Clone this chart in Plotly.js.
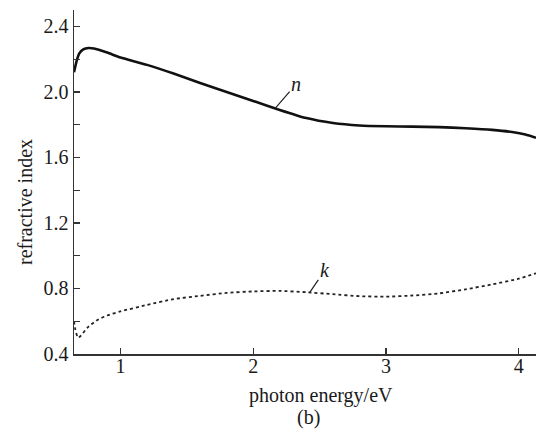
<!DOCTYPE html>
<html>
<head>
<meta charset="utf-8">
<script src="https://cdn.plot.ly/plotly-3.0.1.min.js"></script>
<style>html,body{margin:0;padding:0;background:#fff;}#chart{width:537px;height:438px;}</style>
</head>
<body>
<div id="chart"></div>
<script>
// photon energy (eV) and refractive index n
const energyN = [0.65, 0.67, 0.69, 0.72, 0.76, 0.80, 0.90, 1.00, 1.20, 1.40, 1.60, 1.80, 2.00, 2.20, 2.40, 2.60, 2.80, 3.00, 3.20, 3.40, 3.60, 3.80, 3.95, 4.05, 4.13];
const nValues = [2.12, 2.19, 2.235, 2.26, 2.268, 2.265, 2.24, 2.21, 2.165, 2.112, 2.055, 2.00, 1.945, 1.89, 1.84, 1.81, 1.795, 1.79, 1.788, 1.785, 1.778, 1.768, 1.755, 1.74, 1.72];
// extinction coefficient k
const energyK = [0.65, 0.66, 0.68, 0.70, 0.75, 0.82, 0.90, 1.00, 1.20, 1.40, 1.60, 1.80, 2.00, 2.20, 2.40, 2.60, 2.80, 3.00, 3.20, 3.40, 3.60, 3.80, 4.00, 4.13];
const kValues = [0.60, 0.55, 0.50, 0.51, 0.56, 0.605, 0.635, 0.66, 0.70, 0.735, 0.755, 0.773, 0.782, 0.785, 0.777, 0.765, 0.753, 0.75, 0.757, 0.77, 0.795, 0.825, 0.86, 0.893];
const xTicks = [1, 2, 3, 4, 4.13];
const xTickText = ["1", "2", "3", "4", ""];
const yTicks = [0.4, 0.6, 0.8, 1.0, 1.2, 1.4, 1.6, 1.8, 2.0, 2.2, 2.4, 2.5];
const yTickText = ["0.4", "", "0.8", "", "1.2", "", "1.6", "", "2.0", "", "2.4", ""];
const labelN = {text: "n", x: 2.165, y: 1.90};
const labelK = {text: "k", x: 2.426, y: 0.776};

const font = "'Liberation Serif', 'Times New Roman', serif";
const axisColor = "#333";
const txt = "#1a1a1a";

const traces = [
  {x: energyN, y: nValues, mode: "lines", line: {color: "#111", width: 2.6, shape: "spline", smoothing: 0.6}, hoverinfo: "skip"},
  {x: energyK, y: kValues, mode: "lines", line: {color: "#222", width: 1.8, dash: "dot", shape: "spline", smoothing: 0.6}, hoverinfo: "skip"}
];

const layout = {
  width: 537, height: 438,
  margin: {l: 74, r: 1, t: 10, b: 84},
  paper_bgcolor: "#fff", plot_bgcolor: "#fff",
  showlegend: false,
  font: {family: font, size: 20, color: txt},
  xaxis: {
    range: [0.65, 4.13], tickvals: xTicks, ticktext: xTickText,
    ticks: "inside", ticklen: 6, tickwidth: 1.2, tickcolor: axisColor,
    ticklabelstandoff: -7,
    showline: true, linecolor: axisColor, linewidth: 1.5,
    showgrid: false, zeroline: false, fixedrange: true,
    tickfont: {family: font, size: 20, color: txt}
  },
  yaxis: {
    range: [0.4, 2.5], tickvals: yTicks, ticktext: yTickText,
    ticks: "inside", ticklen: 6, tickwidth: 1.2, tickcolor: axisColor,
    showline: true, linecolor: axisColor, linewidth: 1.5,
    showgrid: false, zeroline: false, fixedrange: true,
    tickfont: {family: font, size: 20, color: txt}
  },
  annotations: [
    {x: labelN.x, y: labelN.y, xref: "x", yref: "y", text: "<i>" + labelN.text + "</i>", showarrow: true,
     arrowhead: 0, arrowwidth: 1.2, arrowcolor: "#222", ax: 21, ay: -24, standoff: 0, startstandoff: 0,
     font: {family: font, size: 20, color: txt}},
    {x: labelK.x, y: labelK.y, xref: "x", yref: "y", text: "<i>" + labelK.text + "</i>", showarrow: true,
     arrowhead: 0, arrowwidth: 1.2, arrowcolor: "#222", ax: 15, ay: -22, standoff: 0, startstandoff: 0,
     font: {family: font, size: 20, color: txt}},
    {x: (321 - 74) / 462, y: -41 / 344, xref: "paper", yref: "paper", text: "photon energy/eV", showarrow: false,
     xanchor: "center", yanchor: "middle", font: {family: font, size: 20, color: txt}},
    {x: (308 - 74) / 462, y: -63 / 344, xref: "paper", yref: "paper", text: "(b)", showarrow: false,
     xanchor: "center", yanchor: "middle", font: {family: font, size: 20, color: txt}},
    {x: -49 / 462, y: (354 - 202) / 344, xref: "paper", yref: "paper", text: "refractive index", showarrow: false,
     textangle: -90, xanchor: "center", yanchor: "middle", font: {family: font, size: 20, color: txt}}
  ]
};

Plotly.newPlot("chart", traces, layout, {displayModeBar: false, staticPlot: true});
</script>
</body>
</html>
